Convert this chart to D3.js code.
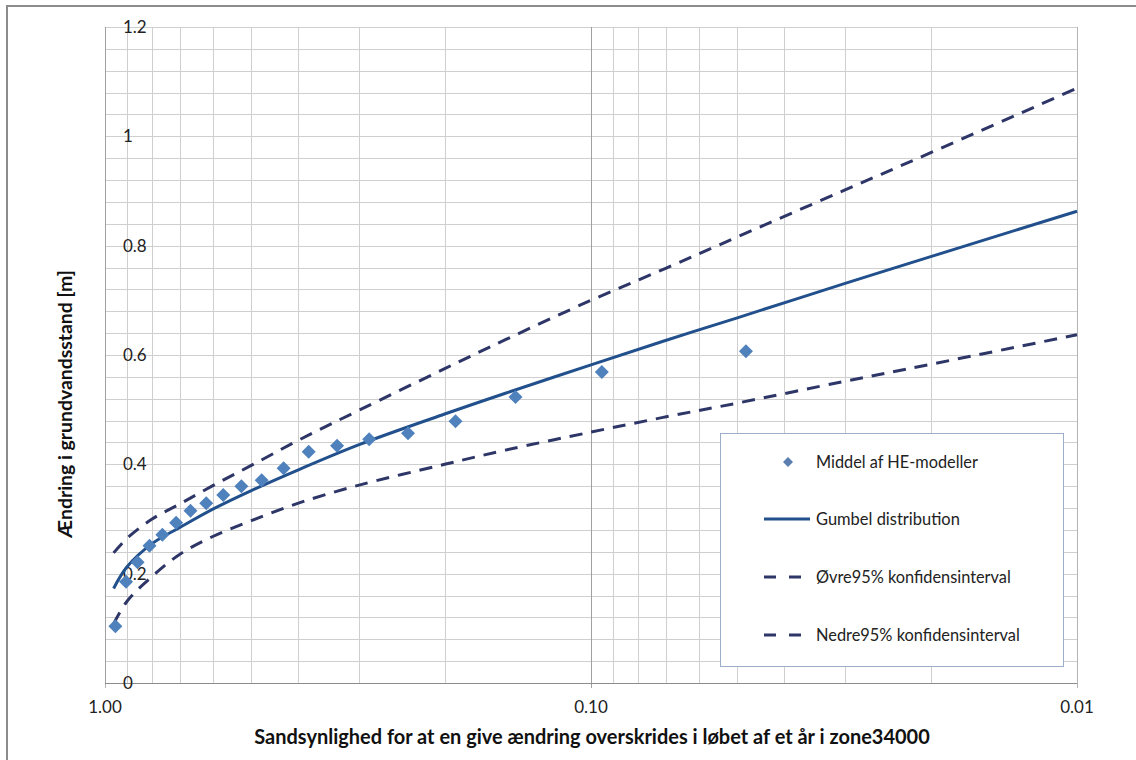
<!DOCTYPE html>
<html><head><meta charset="utf-8">
<script src="https://cdn.jsdelivr.net/npm/d3@7"></script>
<style>html,body{margin:0;padding:0;background:#fff;}svg{display:block;font-family:Lato,"Open Sans",sans-serif;}</style>
</head><body>
<svg id="chart" width="1136" height="760"></svg>
<script>
// ---- data ----
const pointProbs = [0.952,0.905,0.857,0.810,0.762,0.714,0.667,0.619,0.571,0.524,0.476,0.429,0.381,0.333,0.286,0.238,0.190,0.143,0.095,0.048];
const pointValues = [0.104,0.185,0.221,0.251,0.271,0.293,0.315,0.329,0.344,0.360,0.371,0.393,0.423,0.434,0.446,0.457,0.479,0.523,0.569,0.607];
const curveProbs = [0.96,0.9,0.8,0.7,0.6,0.5,0.4,0.3,0.2,0.15,0.1,0.07,0.05,0.03,0.02,0.01];
const gumbel = [0.173,0.213,0.255,0.285,0.318,0.352,0.390,0.436,0.492,0.530,0.582,0.627,0.668,0.731,0.780,0.863];
const upper  = [0.238,0.265,0.300,0.328,0.361,0.398,0.444,0.499,0.575,0.628,0.700,0.759,0.816,0.902,0.970,1.088];
const lower  = [0.108,0.150,0.195,0.236,0.268,0.297,0.329,0.362,0.400,0.426,0.459,0.487,0.512,0.552,0.583,0.637];
const xTicks = [1, 0.1, 0.01];
const xTickLabels = ["1.00","0.10","0.01"];
const yTicks = [0,0.2,0.4,0.6,0.8,1,1.2];
const yTickLabels = ["0","0.2","0.4","0.6","0.8","1","1.2"];
const seriesNames = ["Middel af HE-modeller","Gumbel distribution","Øvre95% konfidensinterval","Nedre95% konfidensinterval"];
const xTitle = "Sandsynlighed for at en give ændring overskrides i løbet af et år i zone34000";
const yTitle = "Ændring i grundvandsstand [m]";

// ---- layout ----
const L = 105, R = 1077, T = 27, B = 683;
const svg = d3.select("#chart");
const x = d3.scaleLog().domain([1, 0.01]).range([L, R]);
const y = d3.scaleLinear().domain([0, 1.2]).range([B, T]);

const navy = "#2e3668", blue = "#21508c", pt = "#4f81bd";

// outer border
svg.append("rect").attr("x",7).attr("y",6).attr("width",1140).attr("height",770)
  .attr("fill","#fff").attr("stroke","#8c8c8c").attr("stroke-width",2);

// horizontal grid every 0.04
const hg = d3.range(0, 31).map(i => i*0.04);
svg.append("g").selectAll("line").data(hg).join("line")
  .attr("x1",L).attr("x2",R).attr("y1",d=>Math.round(y(d))+0.5).attr("y2",d=>Math.round(y(d))+0.5)
  .attr("stroke","#cfcfcf").attr("stroke-width",1);

// vertical grid (log minor)
const vg = [];
[1,0.1].forEach(dec => { for (let k=2;k<=9;k++) vg.push(dec*k/10); });
svg.append("g").selectAll("line").data(vg).join("line")
  .attr("x1",d=>Math.round(x(d))+0.5).attr("x2",d=>Math.round(x(d))+0.5).attr("y1",T).attr("y2",B)
  .attr("stroke","#cfcfcf").attr("stroke-width",1);
// major vertical
svg.append("g").selectAll("line").data(xTicks).join("line")
  .attr("x1",d=>Math.round(x(d))+0.5).attr("x2",d=>Math.round(x(d))+0.5).attr("y1",T).attr("y2",B+5)
  .attr("stroke",d=>d===0.1?"#a0a0a0":"#b4b4b4").attr("stroke-width",1);
// axis lines
svg.append("line").attr("x1",L+0.5).attr("x2",L+0.5).attr("y1",T).attr("y2",B).attr("stroke","#a0a0a0");
svg.append("line").attr("x1",L).attr("x2",R).attr("y1",B+0.5).attr("y2",B+0.5).attr("stroke","#8c8c8c");

// y tick labels (left-aligned inside)
svg.append("g").selectAll("text").data(yTicks).join("text")
  .attr("x",123).attr("y",d=>y(d)).attr("dy","0.35em")
  .attr("font-size",17).attr("fill","#222").text((d,i)=>yTickLabels[i]);
// x tick labels
svg.append("g").selectAll("text").data(xTicks).join("text")
  .attr("x",d=>x(d)).attr("y",713).attr("text-anchor","middle")
  .attr("font-size",17).attr("fill","#222").text((d,i)=>xTickLabels[i]);

function fit(sel, target){
  const n = sel.node(); const fs = parseFloat(sel.attr("font-size"));
  const w = n.getComputedTextLength(); sel.attr("font-size", fs*target/w);
}
// titles
const xt = svg.append("text").attr("x",592).attr("y",744).attr("text-anchor","middle")
  .attr("font-weight","bold").attr("font-size",17).attr("fill","#111").text(xTitle);
fit(xt, 676);
const yt = svg.append("text").attr("transform","translate(72,404) rotate(-90)").attr("text-anchor","middle")
  .attr("font-weight","bold").attr("font-size",17).attr("fill","#111").text(yTitle);
fit(yt, 268);

// lines
const line = d3.line().x(d=>x(d[0])).y(d=>y(d[1])).curve(d3.curveCatmullRom.alpha(0.5));
const mk = arr => curveProbs.map((p,i)=>[p,arr[i]]);
svg.append("path").attr("d",line(mk(upper))).attr("fill","none").attr("stroke",navy)
  .attr("stroke-width",3).attr("stroke-dasharray","13,9");
svg.append("path").attr("d",line(mk(lower))).attr("fill","none").attr("stroke",navy)
  .attr("stroke-width",3).attr("stroke-dasharray","13,9");
svg.append("path").attr("d",line(mk(gumbel))).attr("fill","none").attr("stroke",blue)
  .attr("stroke-width",3);

// diamonds
const dia = r => `M0,${-r}L${r},0L0,${r}L${-r},0Z`;
svg.append("g").selectAll("path").data(pointProbs).join("path")
  .attr("transform",(d,i)=>`translate(${x(d)},${y(pointValues[i])})`)
  .attr("d",dia(7)).attr("fill",pt);

// legend
const lg = svg.append("g");
lg.append("rect").attr("x",720.5).attr("y",433.5).attr("width",343).attr("height",233)
  .attr("fill","#fff").attr("stroke","#9bb0c8").attr("stroke-width",1);
const ly = [462,519,577,635];
lg.append("path").attr("transform",`translate(788,${ly[0]})`).attr("d",dia(5)).attr("fill","#5b7db0");
lg.append("line").attr("x1",764).attr("x2",810).attr("y1",ly[1]).attr("y2",ly[1]).attr("stroke",blue).attr("stroke-width",3);
[2,3].forEach(i=>lg.append("line").attr("x1",764).attr("x2",802).attr("y1",ly[i]).attr("y2",ly[i])
  .attr("stroke",navy).attr("stroke-width",3).attr("stroke-dasharray","12,13"));
const lw = [162,144,195,204];
seriesNames.forEach((s,i)=>{
  const t = lg.append("text").attr("x",816).attr("y",ly[i]).attr("dy","0.35em")
    .attr("font-size",16).attr("fill","#222").text(s);
  fit(t, lw[i]);
});
</script>
</body></html>
